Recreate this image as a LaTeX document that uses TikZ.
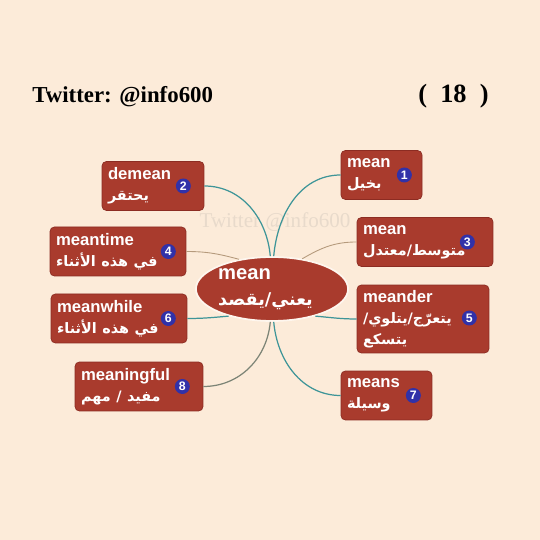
\documentclass[tikz,border=0pt]{standalone}
\usepackage{fontspec}
\setmainfont{Liberation Sans}
\newfontfamily\headfont{Liberation Serif}
\newfontfamily\arabicfont[Script=Arabic]{DejaVu Sans}
\TeXXeTstate=1
\usetikzlibrary{positioning,shapes.geometric}
\definecolor{cream}{HTML}{FCEBD9}
\definecolor{boxred}{HTML}{A93B2D}
\definecolor{boxedge}{HTML}{8C2C22}
\definecolor{badgeblue}{HTML}{3131A8}
\definecolor{linkteal}{HTML}{3E9598}
\definecolor{linktan}{HTML}{B59A7C}
\definecolor{linkgrey}{HTML}{7C8476}
\definecolor{markgrey}{HTML}{E8DACB}
\newcommand{\artext}[2][8.2]{{\arabicfont\fontsize{#1}{12}\selectfont\beginR #2\endR}}

\begin{document}
\begin{tikzpicture}[x=0.02cm, y=0.02cm,
    box/.style={rectangle, draw=boxedge, line width=0.4pt, fill=boxred,
                rounded corners=2.5pt, text=white, align=left, text width=#1,
                inner xsep=0.12cm, inner ysep=2pt, minimum height=0.98cm,
                font=\bfseries\fontsize{9.5}{12}\selectfont},
    badge/.style={circle, fill=badgeblue, text=white, minimum size=0.3cm,
                  inner sep=0pt, font=\bfseries\fontsize{7}{7}\selectfont},
    link/.style={line width=0.7pt, linkteal},
    thinlink/.style={line width=0.5pt, linktan}]
    % page
    \fill[cream] (0,0) rectangle (540,540);
    \useasboundingbox (0,0) rectangle (540,540);
    \node[anchor=base west, inner sep=0pt, font=\headfont\bfseries\fontsize{13}{13}\selectfont]
        (handle) at (32,437) {Twitter: @info600};
    \node[anchor=base west, inner sep=0pt, font=\headfont\bfseries\fontsize{15}{15}\selectfont]
        (pagenum) at (418,437) {(\enspace18\enspace)};
    \node[text=markgrey, font=\headfont\fontsize{12}{12}\selectfont] (mark) at (275,318) {Twitter @info600};
    % centre word
    \node[ellipse, fill=boxred, draw=white!55!cream, line width=1pt, minimum width=2.84cm,
          minimum height=1.28cm, inner sep=0pt, text=white, align=left,
          font=\bfseries\fontsize{11.5}{15}\selectfont] (mean) at (272,251)
        {mean\\\artext[10]{يعني/يقصد}\hspace*{0.26cm}};
    % words
    \node[box=1.38cm] (mean1) at (381.5,365) {mean\\\artext{بخيل}};
    \node[box=1.80cm] (demean) at (153,354) {demean\\\artext{يحتقر}};
    \node[box=2.48cm] (mean3) at (425,298) {mean\\\artext{متوسط/معتدل}};
    \node[box=2.48cm] (meantime) at (118,288.5) {meantime\\\artext{في هذه الأثناء}};
    \node[box=2.40cm, minimum height=1.36cm] (meander) at (423,221)
        {meander\\\artext{يتعرّج/يتلوي/}\\\artext{يتسكع}};
    \node[box=2.48cm] (meanwhile) at (119,221.5) {meanwhile\\\artext{في هذه الأثناء}};
    \node[box=1.58cm] (means) at (386.5,144.5) {means\\\artext{وسيلة}};
    \node[box=2.32cm] (meaningful) at (139,153.5) {meaningful\\\artext{مفيد / مهم}};
    % numbers
    \node[badge] (n1) at ([xshift=-0.36cm]mean1.east) {1};
    \node[badge] (n2) at ([xshift=-0.42cm]demean.east) {2};
    \node[badge] (n3) at ([xshift=-0.52cm]mean3.east) {3};
    \node[badge] (n4) at ([xshift=-0.36cm]meantime.east) {4};
    \node[badge] (n5) at ([xshift=-0.40cm,yshift=0.02cm]meander.east) {5};
    \node[badge] (n6) at ([xshift=-0.38cm]meanwhile.east) {6};
    \node[badge] (n7) at ([xshift=-0.38cm]means.east) {7};
    \node[badge] (n8) at ([xshift=-0.42cm]meaningful.east) {8};
    % branches
    \draw[link] (mean.93) to[out=95,in=0] (demean.east);
    \draw[link] (mean.87) to[out=85,in=180] (mean1.west);
    \draw[thinlink] (mean.45) to[out=30,in=180] (mean3.west);
    \draw[thinlink] (mean.138) to[out=165,in=0] (meantime.east);
    \draw[link] (mean.212) to[out=185,in=0] (meanwhile.east);
    \draw[link] (mean.-32) to[out=-5,in=180] (meander.west);
    \draw[link, linkgrey] (mean.-93) to[out=-95,in=0] (meaningful.east);
    \draw[link] (mean.-87) to[out=-85,in=180] (means.west);
\end{tikzpicture}
\end{document}
